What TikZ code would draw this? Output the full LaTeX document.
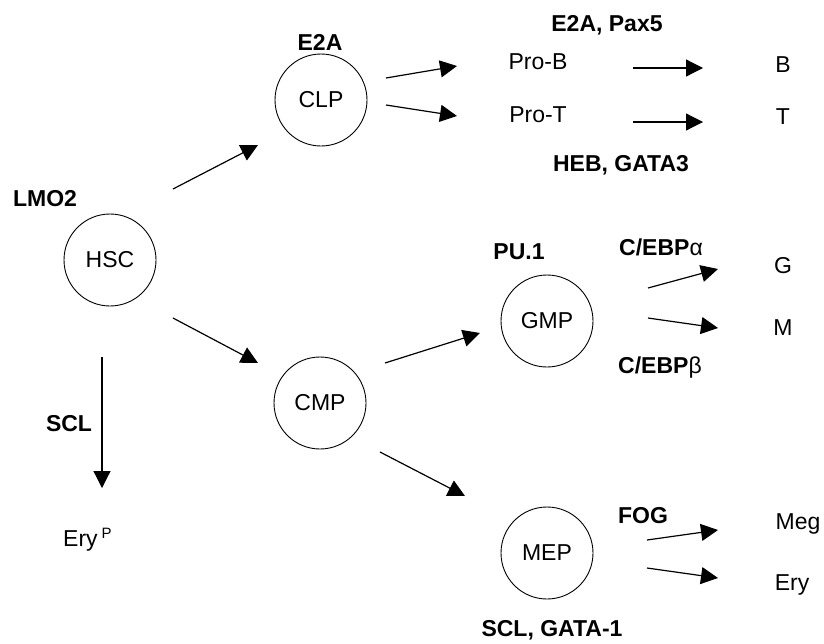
\documentclass[tikz,border=0pt]{standalone}
\usepackage{fontspec}
\setmainfont{Liberation Sans}
\usetikzlibrary{arrows.meta}

\tikzset{
  cell/.style={draw,circle,line width=0.9pt,minimum size=92pt,inner sep=0pt},
  lbl/.style={inner sep=0pt,text depth=0pt},
  tf/.style={lbl,font=\fontsize{23}{27}\selectfont\bfseries},
  arr/.style={line width=1.2pt,-{Triangle[length=17pt,width=17pt]}}
}

\begin{document}
\begin{tikzpicture}[x=1pt,y=-1pt,font=\fontsize{23}{27}\selectfont]
\useasboundingbox (0,0) rectangle (824,643);
% progenitors
\node[cell] (hsc) at (110,260) {HSC};
\node[cell] (clp) at (321,100) {CLP};
\node[cell] (cmp) at (320,403) {CMP};
\node[cell] (gmp) at (547,321) {GMP};
\node[cell] (mep) at (547,553) {MEP};
% lineages
\node[lbl] (prob) at (538,62) {Pro-B};
\node[lbl] (prot) at (538,115) {Pro-T};
\node[lbl] (b) at (783,65) {B};
\node[lbl] (t) at (783,117) {T};
\node[lbl] (g) at (783,265) {G};
\node[lbl] (m) at (783,328) {M};
\node[lbl] (meg) at (798,522) {Meg};
\node[lbl] (ery) at (792,583) {Ery};
\node[lbl,anchor=west] (eryp) at (63,537) {Ery\,{\fontsize{15}{15}\selectfont\raisebox{8pt}{P}}};
% factors
\node[tf] (lmo2) at (45,198) {LMO2};
\node[tf] (e2a) at (320,42) {E2A};
\node[tf] (e2apax) at (607,23) {E2A, Pax5};
\node[tf] (hebgata) at (621,163) {HEB, GATA3};
\node[tf] (pu1) at (519,252) {PU.1};
\node[tf] (cebpa) at (661,247) {C/EBP\textmd{α}};
\node[tf] (cebpb) at (660,365) {C/EBP\textmd{β}};
\node[tf] (scl) at (69,423) {SCL};
\node[tf] (fog) at (643,515) {FOG};
\node[tf] (sclgata) at (552,628) {SCL, GATA-1};
% arrows
\draw[arr] ([shift={(63,-71)}]hsc.center) -- ([shift={(-63,45)}]clp.center);
\draw[arr] ([shift={(63,58)}]hsc.center) -- ([shift={(-62,-40)}]cmp.center);
\draw[arr] ([shift={(-8,97)}]hsc.center) -- ([shift={(39,-49)}]eryp.west);
\draw[arr] ([shift={(65,-22)}]clp.center) -- ([shift={(-81,4)}]prob.center);
\draw[arr] ([shift={(65,5)}]clp.center) -- ([shift={(-81,1)}]prot.center);
\draw[arr] ([shift={(95,6)}]prob.center) -- ([shift={(-80,3)}]b.center);
\draw[arr] ([shift={(95,7)}]prot.center) -- ([shift={(-80,5)}]t.center);
\draw[arr] ([shift={(65,-40)}]cmp.center) -- ([shift={(-67,12)}]gmp.center);
\draw[arr] ([shift={(60,49)}]cmp.center) -- ([shift={(-82,-57)}]mep.center);
\draw[arr] ([shift={(101,-33)}]gmp.center) -- ([shift={(-65,4)}]g.center);
\draw[arr] ([shift={(101,-3)}]gmp.center) -- ([shift={(-65,0)}]m.center);
\draw[arr] ([shift={(100,-13)}]mep.center) -- ([shift={(-80,8)}]meg.center);
\draw[arr] ([shift={(100,15)}]mep.center) -- ([shift={(-74,-5)}]ery.center);
\end{tikzpicture}
\end{document}
